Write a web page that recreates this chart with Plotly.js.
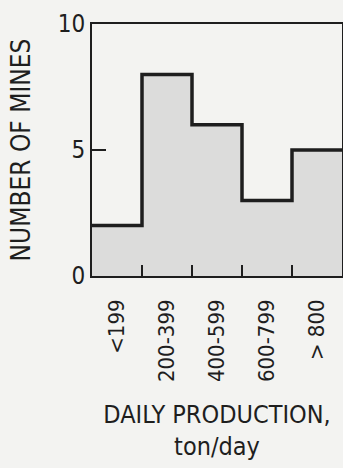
<!DOCTYPE html>
<html><head><meta charset="utf-8">
<script src="https://cdn.plot.ly/plotly-3.0.1.min.js"></script>
<style>html,body{margin:0;padding:0;background:#f3f3f1;}</style>
</head><body>
<div id="chart" style="width:343px;height:468px;"></div>
<script>
const categories = ['<199', '200-399', '400-599', '600-799', '> 800'];
const counts = [2, 8, 6, 3, 5];
const yTicks = [0, 5, 10];

const centers = categories.map((c, i) => i + 0.5);
const edges = categories.map((c, i) => i).concat([categories.length]);
const stepY = counts.concat([counts[counts.length - 1]]);
const inner = edges.slice(1, -1);

const FONT = '"DejaVu Sans Condensed", "Liberation Sans Narrow", sans-serif';
const INK = '#1e1e1e';

const traces = [
  {type: 'bar', x: centers, y: counts, xaxis: 'x', yaxis: 'y', width: 1,
   marker: {color: '#dcdcdb', line: {width: 0}}, hoverinfo: 'skip'},
  {type: 'scatter', mode: 'lines', x: edges, y: stepY, xaxis: 'x2', yaxis: 'y',
   line: {shape: 'hv', color: INK, width: 3.5}, hoverinfo: 'skip'}
];

const layout = {
  width: 343, height: 468,
  margin: {l: 92, r: 1, t: 24, b: 192},
  paper_bgcolor: '#f3f3f1', plot_bgcolor: '#f3f3f1',
  showlegend: false,
  font: {family: FONT, color: INK, size: 19},
  xaxis: {range: [0, categories.length], tickvals: inner, showticklabels: false,
          ticks: 'inside', ticklen: 11, tickwidth: 2, tickcolor: INK,
          showgrid: false, zeroline: false, showline: true, linecolor: INK, linewidth: 2, mirror: true,
          title: {text: 'DAILY PRODUCTION,<br>ton/day', font: {size: 25, family: FONT}, standoff: 128}},
  xaxis2: {overlaying: 'x', side: 'bottom', range: [0, categories.length],
           tickvals: centers, ticktext: categories,
           ticks: '', tickangle: -90, ticklabelstandoff: 18, showgrid: false, zeroline: false,
           showline: false, tickfont: {size: 22, family: FONT}},
  yaxis: {range: [0, 10], tickvals: yTicks, ticks: 'inside', ticklen: 14, tickwidth: 1.5, tickcolor: INK,
          showgrid: false, zeroline: false, showline: true, linecolor: INK, linewidth: 2, mirror: true,
          tickfont: {size: 24, family: FONT},
          title: {text: 'NUMBER OF MINES', font: {size: 26, family: FONT}, standoff: 20}}
};

Plotly.newPlot('chart', traces, layout, {staticPlot: true, displayModeBar: false});
</script>
</body></html>
